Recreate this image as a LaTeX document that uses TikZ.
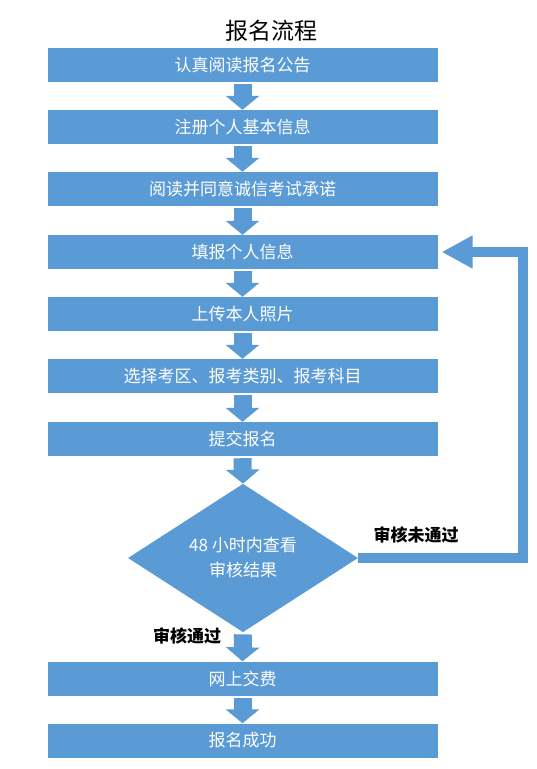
\documentclass[tikz,border=0pt]{standalone}
\usepackage{fontspec}
\setmainfont{Noto Sans CJK SC}
\usetikzlibrary{shapes.geometric,arrows.meta}
\definecolor{boxblue}{RGB}{91,155,213}
\tikzset{
  stepbox/.style={rectangle, fill=boxblue, draw=none, minimum width=390pt, minimum height=34pt, inner sep=0pt, text=white, font=\fontsize{17pt}{19pt}\selectfont},
  blockarrow/.style={draw=boxblue, line width=18pt, shorten <=2pt, -{Triangle[width=33pt,length=14pt]}},
  fbline/.style={draw=boxblue, line width=10pt, shorten >=4pt, -{Triangle[width=31pt,length=31pt]}},
  lbl/.style={font=\fontsize{17pt}{19pt}\selectfont\bfseries, text=black, inner sep=0pt}
}
\begin{document}
\begin{tikzpicture}[x=1pt,y=-1pt]
\useasboundingbox (0,0) rectangle (536,769);
\fill[white] (0,0) rectangle (536,769);
\node[font=\fontsize{23pt}{25pt}\selectfont, inner sep=0pt] (title) at (271,31) {报名流程};
\node[stepbox] (b1) at (242.5,65) {认真阅读报名公告};
\node[stepbox] (b2) at (242.5,127) {注册个人基本信息};
\node[stepbox] (b3) at (242.5,189) {阅读并同意诚信考试承诺};
\node[stepbox] (b4) at (242.5,252) {填报个人信息};
\node[stepbox] (b5) at (242.5,314) {上传本人照片};
\node[stepbox] (b6) at (242.5,376) {选择考区、报考类别、报考科目};
\node[stepbox] (b7) at (242.5,439) {提交报名};
\node[diamond, fill=boxblue, draw=none, minimum width=230pt, minimum height=147pt, inner sep=0pt, text=white, align=center, font=\fontsize{17pt}{25pt}\selectfont] (dia) at (243,558) {48 小时内查看\\审核结果};
\node[stepbox] (b8) at (242.5,678.5) {网上交费};
\node[stepbox] (b9) at (242.5,740.5) {报名成功};
\draw[blockarrow] (b1.south) -- (b2.north);
\draw[blockarrow] (b2.south) -- (b3.north);
\draw[blockarrow] (b3.south) -- (b4.north);
\draw[blockarrow] (b4.south) -- (b5.north);
\draw[blockarrow] (b5.south) -- (b6.north);
\draw[blockarrow] (b6.south) -- (b7.north);
\draw[blockarrow] (b7.south) -- (dia.north);
\draw[blockarrow] (dia.south) -- (b8.north);
\draw[blockarrow] (b8.south) -- (b9.north);
\coordinate (turn) at (523,558);
\draw[fbline] (dia.east) -- (turn) |- (b4.east);
\node[lbl] (fail) at (416,535) {审核未通过};
\node[lbl] (pass) at (187,636) {审核通过};
\end{tikzpicture}
\end{document}
